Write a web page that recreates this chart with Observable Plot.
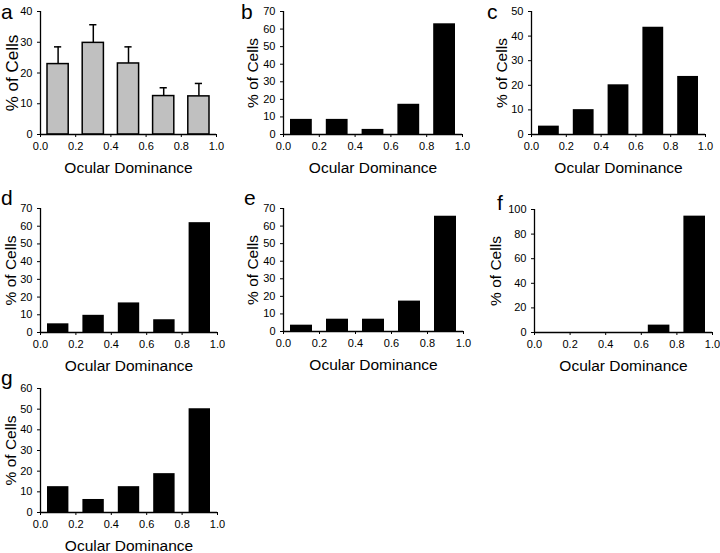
<!DOCTYPE html>
<html><head><meta charset="utf-8">
<script src="https://cdn.jsdelivr.net/npm/d3@7"></script>
<script src="https://cdn.jsdelivr.net/npm/@observablehq/plot@0.6"></script>
<style>
html,body{margin:0;padding:0;background:#fff;}
#root{position:relative;width:720px;height:553px;overflow:hidden;font-family:"Liberation Sans",Arial,sans-serif;}
.panel{position:absolute;}
.letter{position:absolute;font-size:21px;line-height:16px;color:#000;font-family:"Liberation Sans",Arial,sans-serif;}
g[aria-label="x-axis label"] text{font-size:15.5px;}
g[aria-label="y-axis label"] text{font-size:15.5px;}
.pa g[aria-label="y-axis label"] text{font-size:17px;}
</style></head><body><div id="root"></div>
<script>
const binStart = [0, 0.2, 0.4, 0.6, 0.8];
const binEnd = [0.2, 0.4, 0.6, 0.8, 1.0];
const xTicks = [0, 0.2, 0.4, 0.6, 0.8, 1.0];
const xTickLabels = ["0.0", "0.2", "0.4", "0.6", "0.8", "1.0"];
const panelLetters = ["a", "b", "c", "d", "e", "f", "g"];
const xTitle = "Ocular Dominance";
const yTitle = "% of Cells";

const valuesA = [22.9, 29.8, 23.1, 12.5, 12.4];
const errorTopA = [28.5, 35.7, 28.5, 15.2, 16.6];
const valuesB = [8.6, 8.6, 2.9, 17.2, 63.0];
const valuesC = [3.4, 10.1, 20.2, 43.6, 23.6];
const valuesD = [4.9, 9.7, 16.7, 7.2, 62.0];
const valuesE = [3.6, 7.0, 7.0, 17.3, 65.6];
const valuesF = [0, 0, 0, 6.0, 94.6];
const valuesG = [12.5, 6.3, 12.5, 18.8, 50.2];

const yTicksA = [0, 10, 20, 30, 40];
const yTicksB = [0, 10, 20, 30, 40, 50, 60, 70];
const yTicksC = [0, 10, 20, 30, 40, 50];
const yTicksD = [0, 10, 20, 30, 40, 50, 60, 70];
const yTicksE = [0, 10, 20, 30, 40, 50, 60, 70];
const yTicksF = [0, 20, 40, 60, 80, 100];
const yTicksG = [0, 10, 20, 30, 40, 50, 60];

const layouts = [
  {left: 0,   top: 0,   width: 240, height: 185, ml: 40, mr: 24, mt: 11, mb: 51, ylo: 35, lx: 1,   ly: 3.7},
  {left: 240, top: 0,   width: 240, height: 185, ml: 43, mr: 18, mt: 11, mb: 51, ylo: 37, lx: 241, ly: 3.7},
  {left: 480, top: 0,   width: 240, height: 185, ml: 51, mr: 15, mt: 11, mb: 51, ylo: 36, lx: 487, ly: 3.7},
  {left: 0,   top: 185, width: 240, height: 185, ml: 40, mr: 23, mt: 23, mb: 38, ylo: 36, lx: 1,   ly: 190.4},
  {left: 240, top: 185, width: 240, height: 185, ml: 43, mr: 17, mt: 23, mb: 39, ylo: 36.5, lx: 244, ly: 190.4},
  {left: 480, top: 185, width: 240, height: 185, ml: 54, mr: 8,  mt: 24, mb: 38, ylo: 44.5, lx: 497, ly: 194.7},
  {left: 0,   top: 370, width: 240, height: 183, ml: 40, mr: 23, mt: 18, mb: 41, ylo: 36, lx: 1,   ly: 369.7}
];

const panels = [
  {values: valuesA, ticks: yTicksA, err: errorTopA},
  {values: valuesB, ticks: yTicksB},
  {values: valuesC, ticks: yTicksC},
  {values: valuesD, ticks: yTicksD},
  {values: valuesE, ticks: yTicksE},
  {values: valuesF, ticks: yTicksF},
  {values: valuesG, ticks: yTicksG}
];

const root = document.getElementById("root");

panels.forEach((p, k) => {
  const lay = layouts[k];
  const data = p.values.map((v, i) => ({
    x1: binStart[i], x2: binEnd[i], xm: (binStart[i] + binEnd[i]) / 2,
    y: v, e: p.err ? p.err[i] : null
  }));
  const yMax = p.ticks[p.ticks.length - 1];
  const marks = [];
  if (p.err) {
    marks.push(Plot.ruleX(data, {x: "xm", y1: "y", y2: "e", stroke: "#000", strokeWidth: 1.5}));
    marks.push(Plot.ruleY(data, {x1: "x1", x2: "x2", y: "e", stroke: "#000", strokeWidth: 1.5, insetLeft: 14, insetRight: 14}));
  }
  marks.push(Plot.rectY(data, {
    x1: "x1", x2: "x2", y: "y",
    fill: p.err ? "#c0c0c0" : "#000",
    stroke: p.err ? "#000" : "none",
    strokeWidth: 1.5,
    insetLeft: 7, insetRight: 7
  }));
  marks.push(Plot.axisX({
    ticks: xTicks, tickFormat: d => xTickLabels[xTicks.indexOf(d)],
    tickSize: 3, tickPadding: 5, fontSize: 11,
    label: xTitle, labelAnchor: "center", labelOffset: 38, labelArrow: "none"
  }));
  marks.push(Plot.axisY({
    ticks: p.ticks, tickSize: 3, tickPadding: 5, fontSize: 11,
    label: yTitle, labelAnchor: "center", labelOffset: lay.ylo, labelArrow: "none"
  }));
  marks.push(Plot.ruleY([0], {stroke: "#000", strokeWidth: 1.3}));
  marks.push(Plot.ruleX([0], {stroke: "#000", strokeWidth: 1.3}));

  const svg = Plot.plot({
    width: lay.width, height: lay.height,
    marginLeft: lay.ml, marginRight: lay.mr, marginTop: lay.mt, marginBottom: lay.mb,
    x: {domain: [0, 1]},
    y: {domain: [0, yMax]},
    style: {background: "transparent", overflow: "visible", fontFamily: "Liberation Sans, Arial, sans-serif", color: "#000"},
    marks
  });
  svg.classList.add("panel");
  if (k === 0) svg.classList.add("pa");
  svg.style.left = lay.left + "px";
  svg.style.top = lay.top + "px";
  root.appendChild(svg);

  const letter = document.createElement("div");
  letter.className = "letter";
  letter.textContent = panelLetters[k];
  letter.style.left = lay.lx + "px";
  letter.style.top = lay.ly + "px";
  root.appendChild(letter);
});
</script>
</body></html>
